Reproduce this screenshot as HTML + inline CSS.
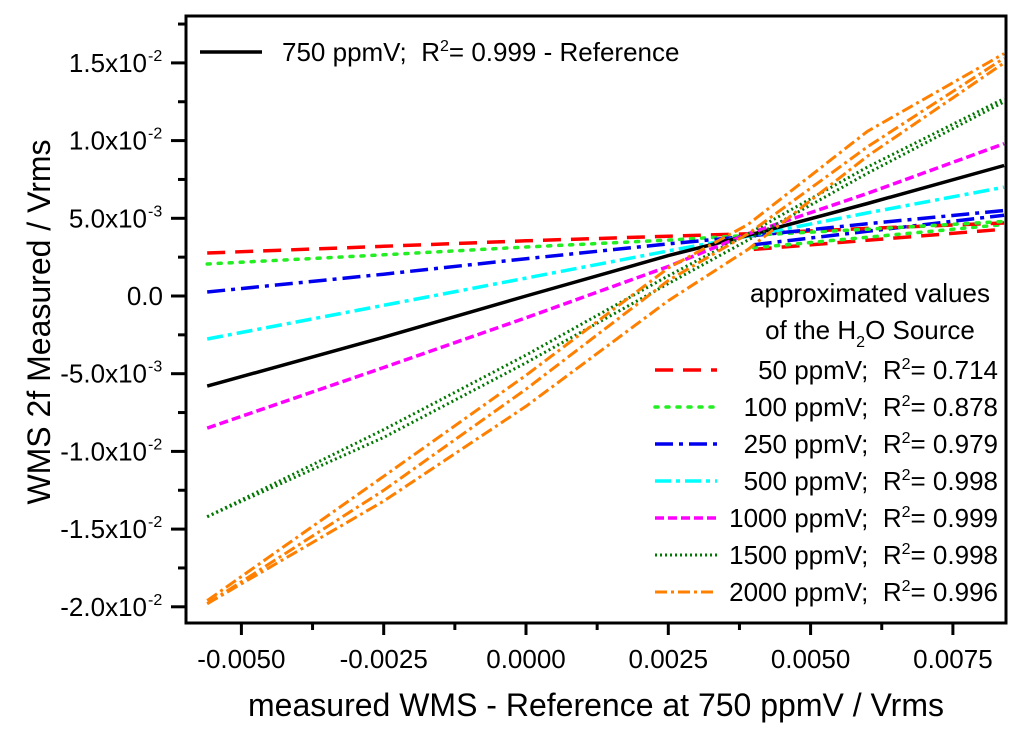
<!DOCTYPE html>
<html><head><meta charset="utf-8"><style>
body{margin:0;background:#fff}
svg{display:block;font-family:"Liberation Sans",sans-serif}
</style></head><body>
<svg id="chart" width="1024" height="739" viewBox="0 0 1024 739">
<g id="series"></g>
<g id="axes"></g>
<rect x="186" y="16" width="820" height="607" fill="none" stroke="#000" stroke-width="3"/>
<text x="596" y="716" font-size="32" text-anchor="middle">measured WMS - Reference at 750 ppmV / Vrms</text>
<text transform="translate(50,322) rotate(-90)" font-size="32" text-anchor="middle">WMS 2f Measured / Vrms</text>
<g>
<line x1="200" y1="52" x2="262" y2="52" stroke="#000" stroke-width="3.5"/>
<text x="282" y="61" font-size="26">750 ppmV;&#160; R<tspan dy="-10" font-size="16">2</tspan><tspan dy="10">= 0.999 - Reference</tspan></text>
</g>
<g id="legend">
<text x="870" y="302" font-size="26" text-anchor="middle">approximated values</text>
<text x="870" y="339" font-size="26" text-anchor="middle">of the H<tspan dy="8" font-size="16">2</tspan><tspan dy="-8">O Source</tspan></text>
</g>
</svg>
<script>
const xs = [-0.0056, -0.0025, 0, 0.0025, 0.0039, 0.006, 0.0084];
const names = ["50 ppmV","100 ppmV","250 ppmV","500 ppmV","1000 ppmV","1500 ppmV","2000 ppmV"];
const r2 = ["0.714","0.878","0.979","0.998","0.999","0.998","0.996"];
const yRef = [-5.8, -2.65, 0.0, 2.6, 3.9, 5.95, 8.4];
const y50 = [2.77, 3.2, 3.55, 3.85, 4.0, 4.35, 4.7];
const y100 = [2.06, 2.65, 3.15, 3.6, 3.9, 4.3, 4.8];
const y250 = [0.26, 1.4, 2.4, 3.35, 3.85, 4.65, 5.5];
const y500 = [-2.77, -0.6, 1.15, 2.9, 3.85, 5.35, 7.0];
const y1000 = [-8.5, -4.6, -1.4, 1.9, 4.0, 6.6, 9.8];
const y1500 = [-14.2, -8.6, -3.8, 1.3, 4.0, 8.3, 12.7];
const y1500b = [-14.2, -9.1, -4.3, 0.8, 3.6, 7.9, 12.5];
const y2000 = [-19.8, -12.5, -6.0, 1.0, 4.0, 9.6, 15.3];
const y2000up = [-19.6, -11.6, -5.1, 1.8, 4.6, 10.6, 15.6];
const y2000lo = [-19.8, -13.2, -7.1, -0.3, 3.0, 9.0, 15.0];
const branchX = [0.004, 0.0084];
const br50 = [3.0, 4.3];
const br100 = [3.1, 4.6];
const br250 = [3.3, 5.2];
const xTicks = [-0.005, -0.0025, 0, 0.0025, 0.005, 0.0075];
const xTickLabels = ["-0.0050","-0.0025","0.0000","0.0025","0.0050","0.0075"];
const yTicks = [15, 10, 5, 0, -5, -10, -15, -20];
const yTickMant = ["1.5x10","1.0x10","5.0x10","0.0","-5.0x10","-1.0x10","-1.5x10","-2.0x10"];
const yTickExp = ["-2","-2","-3","","-3","-2","-2","-2"];

const NS="http://www.w3.org/2000/svg";
const X = v => 526 + v/0.0025*142.3;
const Y = v => 296 - v/5*77.7;   // v in units of 1e-3
const seriesG=document.getElementById('series');
const axesG=document.getElementById('axes');
const legendG=document.getElementById('legend');
function mk(tag, attrs, parent){const e=document.createElementNS(NS,tag);for(const k in attrs)e.setAttribute(k,attrs[k]);parent.appendChild(e);return e;}
function path(xv, yv){return xv.map((x,i)=>(i?'L':'M')+X(x).toFixed(1)+' '+Y(yv[i]).toFixed(1)).join(' ');}

const styles = [
 {c:"#ff0000",w:3.5,d:"18 10",cap:"butt"},
 {c:"#22ee22",w:3.5,d:"3 8",cap:"round"},
 {c:"#0000ee",w:3.5,d:"18 6 4 6",cap:"butt"},
 {c:"#00ffff",w:3.5,d:"16 5 4 5",cap:"butt"},
 {c:"#ff00ff",w:3.5,d:"9 4",cap:"butt"},
 {c:"#007700",w:3,d:"2 3",cap:"butt"},
 {c:"#ff8000",w:3,d:"12 4 3 4",cap:"butt"}
];
function drawLine(d, st, name){
  const p=mk('path',{d:d,fill:'none',stroke:st.c,'stroke-width':st.w,'stroke-dasharray':st.d,'stroke-linecap':st.cap,'stroke-linejoin':'round'},seriesG);
  
  
}
drawLine(path(branchX,br50),styles[0],'line-50-ppmv-branch');
drawLine(path(branchX,br100),styles[1],'line-100-ppmv-branch');
drawLine(path(branchX,br250),styles[2],'line-250-ppmv-branch');
drawLine(path(xs,y50),styles[0],'line-50-ppmv');
drawLine(path(xs,y100),styles[1],'line-100-ppmv');
drawLine(path(xs,y250),styles[2],'line-250-ppmv');
drawLine(path(xs,y500),styles[3],'line-500-ppmv');
const ref=mk('path',{d:path(xs,yRef),fill:'none',stroke:'#000','stroke-width':3.5},seriesG);


drawLine(path(xs,y1000),styles[4],'line-1000-ppmv');
drawLine(path(xs,y1500b),styles[5],'line-1500-ppmv-branch');
drawLine(path(xs,y1500),styles[5],'line-1500-ppmv');
drawLine(path(xs,y2000up),styles[6],'line-2000-ppmv-upper');
drawLine(path(xs,y2000lo),styles[6],'line-2000-ppmv-lower');
drawLine(path(xs,y2000),styles[6],'line-2000-ppmv');

// x ticks
xTicks.forEach((v,i)=>{
  const t=mk('line',{x1:X(v),x2:X(v),y1:623,y2:635,stroke:'#000','stroke-width':3},axesG);
  
  
  if(i<xTicks.length-1){
    const m=mk('line',{x1:X(v+0.00125),x2:X(v+0.00125),y1:623,y2:630,stroke:'#000','stroke-width':3},axesG);
    
    
  }
  const l=mk('text',{x:X(v),y:668,'font-size':26,'text-anchor':'middle'},axesG);
  l.textContent=xTickLabels[i];
  
  
});
// y ticks
yTicks.forEach((v,i)=>{
  const t=mk('line',{x1:171,x2:186,y1:Y(v),y2:Y(v),stroke:'#000','stroke-width':3},axesG);
  
  
  if(v>-20){
    const m=mk('line',{x1:178,x2:186,y1:Y(v-2.5),y2:Y(v-2.5),stroke:'#000','stroke-width':3},axesG);
    
    
  }
  const l=mk('text',{x:yTickExp[i]?147:163,y:Y(v)+9,'font-size':26,'text-anchor':'end'},axesG);
  l.textContent=yTickMant[i];
  
  
  if(yTickExp[i]){
    const e=mk('text',{x:148,y:Y(v)-2,'font-size':16,'text-anchor':'start'},axesG);
    e.textContent=yTickExp[i];
    
    
  }
});
const mt=mk('line',{x1:178,x2:186,y1:Y(17.5),y2:Y(17.5),stroke:'#000','stroke-width':3},axesG);



// legend entries
names.forEach((n,i)=>{
  const y=370+i*37;
  const st=styles[i];
  const ln=mk('line',{x1:655,x2:717,y1:y,y2:y,stroke:st.c,'stroke-width':st.w,'stroke-dasharray':st.d,'stroke-linecap':st.cap},legendG);
  
  
  const t=mk('text',{x:998,y:y+9,'font-size':26,'text-anchor':'end'},legendG);
  t.innerHTML=n+';&#160; R<tspan dy="-10" font-size="16">2</tspan><tspan dy="10">= '+r2[i]+'</tspan>';
  
  
});
</script>
</body></html>
